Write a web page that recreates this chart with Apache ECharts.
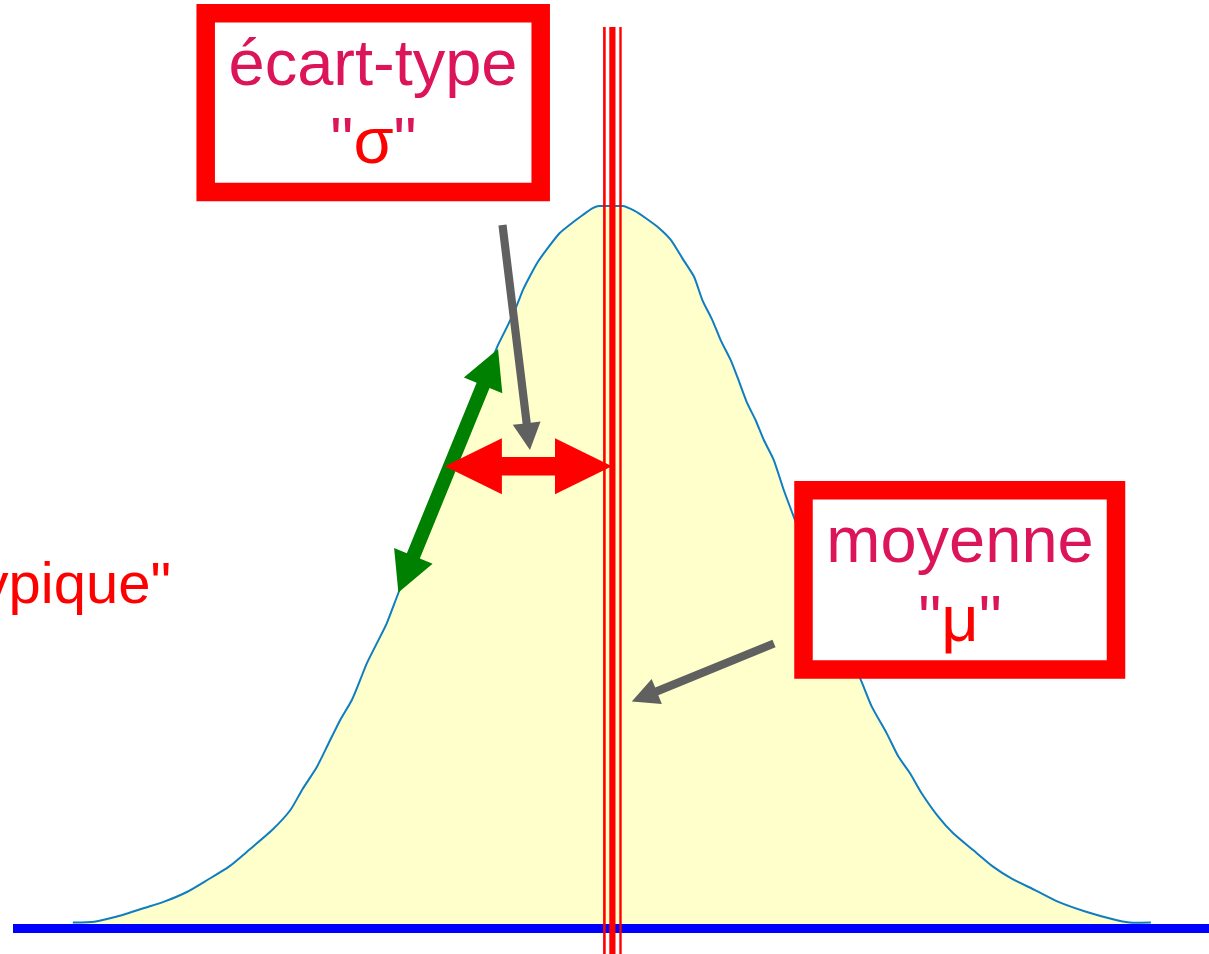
<!DOCTYPE html>
<html>
<head>
<meta charset="utf-8">
<script src="https://cdn.jsdelivr.net/npm/echarts@6/dist/echarts.min.js"></script>
<style>
  html, body { margin: 0; padding: 0; background: #fff; }
  #chart { width: 1209px; height: 954px; }
</style>
</head>
<body>
<div id="chart"></div>
<script>
// distribution, x in sigma units around the mean, y as density
const curveX = [-3.24, -3.11, -2.94, -2.81, -2.69, -2.55, -2.43, -2.30, -2.18, -2.04, -1.93, -1.86, -1.77, -1.70,
  -1.63, -1.56, -1.51, -1.47, -1.40, -1.35, -1.28, -1.15, -1.03, -0.91, -0.79, -0.68, -0.62, -0.57, -0.53, -0.49,
  -0.44, -0.39, -0.31, -0.25, -0.17, -0.11, -0.07, 0.07, 0.14, 0.21, 0.29, 0.36, 0.43, 0.50, 0.55, 0.61, 0.66,
  0.72, 0.76, 0.82, 0.87, 0.92, 0.98, 1.04, 1.10, 1.20, 1.32, 1.41, 1.50, 1.57, 1.66, 1.73, 1.80, 1.87, 1.97,
  2.06, 2.18, 2.30, 2.41, 2.55, 2.69, 2.86, 3.04, 3.14, 3.25];
const curveY = [0.003, 0.0035, 0.0072, 0.0111, 0.0146, 0.0201, 0.0266, 0.034, 0.0432, 0.0543, 0.0654, 0.0765, 0.0894, 0.1024,
  0.1153, 0.1264, 0.1375, 0.1467, 0.1596, 0.1689, 0.1857, 0.2151, 0.2428, 0.2705, 0.2982, 0.3232, 0.3343, 0.3444, 0.3537, 0.361,
  0.3693, 0.3758, 0.3851, 0.3897, 0.3952, 0.399, 0.4002, 0.4002, 0.3976, 0.3934, 0.3879, 0.3814, 0.3712, 0.361, 0.3481, 0.337, 0.3259,
  0.3149, 0.3056, 0.2909, 0.2816, 0.2705, 0.2594, 0.2428, 0.228, 0.204, 0.1752, 0.1552, 0.1384, 0.1227, 0.1079, 0.095, 0.0858, 0.0747, 0.0617,
  0.0525, 0.0432, 0.034, 0.0275, 0.0211, 0.0146, 0.009, 0.0044, 0.0029, 0.003];

const mean = 0;
const sigma = 1;
const sigmaArrowY = 0.256;
const typicalFrom = [-1.28, 0.186];
const typicalTo = [-0.68, 0.321];
const sigmaPointer = [-0.488, 0.265];
const meanPointer = [0.125, 0.1255];

const chart = echarts.init(document.getElementById('chart'));
const font = 'Liberation Sans, Arial, sans-serif';

chart.setOption({
  animation: false,
  backgroundColor: '#ffffff',
  grid: { left: 13, right: 0, top: 26, bottom: 26 },
  xAxis: {
    type: 'value',
    min: -3.6,
    max: 3.6,
    z: 5,
    axisLine: { show: true, onZero: true, lineStyle: { color: '#0000ff', width: 9, cap: 'butt' } },
    axisTick: { show: false },
    axisLabel: { show: false },
    splitLine: { show: false },
  },
  yAxis: {
    type: 'value',
    min: 0,
    max: 0.5,
    show: false,
    splitLine: { show: false },
  },
  series: [
    {
      type: 'line',
      data: curveX.map((x, i) => [x, curveY[i]]),
      showSymbol: false,
      smooth: 0.2,
      lineStyle: { color: '#0f7dc2', width: 2 },
      areaStyle: { color: '#ffffcc', opacity: 1 },
    },
  ],
});

const px = (p) => chart.convertToPixel({ gridIndex: 0 }, p);

function arrowPoints(p0, p1, w, L, H, double) {
  const dx = p1[0] - p0[0];
  const dy = p1[1] - p0[1];
  const len = Math.hypot(dx, dy);
  const ux = dx / len, uy = dy / len;
  const nx = -uy, ny = ux;
  const pt = (t, s) => [p0[0] + ux * t + nx * s, p0[1] + uy * t + ny * s];
  const pts = [];
  if (double) pts.push(pt(0, 0), pt(L, H), pt(L, w));
  else pts.push(pt(0, w));
  pts.push(pt(len - L, w), pt(len - L, H), pt(len, 0), pt(len - L, -H), pt(len - L, -w));
  if (double) pts.push(pt(L, -w), pt(L, -H));
  else pts.push(pt(0, -w));
  return pts;
}

const muPx = px([mean, 0]);
const topPx = px([mean, 0.5]);
const sigLeft = px([mean - sigma, sigmaArrowY]);
const sigRight = px([mean, sigmaArrowY]);

const vLine = (dx, width) => ({
  type: 'line',
  z: 20,
  shape: { x1: muPx[0] + dx, y1: topPx[1] + 1, x2: muPx[0] + dx, y2: 954 },
  style: { stroke: '#ff0000', lineWidth: width },
});

const boxText = (x, y, text, rich) => ({
  type: 'text',
  z: 31,
  style: {
    x, y, text, rich,
    fill: '#dc145a',
    font: '65px ' + font,
    align: 'center',
    verticalAlign: 'middle',
  },
});

chart.setOption({
  graphic: [
    {
      type: 'polygon', z: 10,
      shape: { points: arrowPoints(px(typicalFrom), px(typicalTo), 7, 39.5, 20.8, true) },
      style: { fill: '#008000' },
    },
    {
      type: 'polygon', z: 11,
      shape: { points: arrowPoints(sigLeft, [sigRight[0] + 1, sigRight[1]], 9.2, 57, 28, true) },
      style: { fill: '#ff0000' },
    },
    {
      type: 'polygon', z: 12,
      shape: { points: arrowPoints([502.5, 225], px(sigmaPointer), 4.1, 27, 14, false) },
      style: { fill: '#606060' },
    },
    {
      type: 'polygon', z: 12,
      shape: { points: arrowPoints([774, 643.5], px(meanPointer), 4.1, 27, 13.5, false) },
      style: { fill: '#606060' },
    },
    vLine(-6.6, 2.6),
    vLine(1.4, 6.2),
    vLine(9.5, 2.4),
    {
      type: 'text', z: 25,
      style: {
        x: 171, y: 587, text: '"typique"',
        fill: '#ff0000', font: '58px ' + font,
        align: 'right', verticalAlign: 'middle',
      },
    },
    {
      type: 'rect', z: 30,
      shape: { x: 205.7, y: 13.2, width: 335, height: 178.8 },
      style: { fill: '#ffffff', stroke: '#ff0000', lineWidth: 18.5 },
    },
    boxText(373, 67.5, 'écart-type'),
    boxText(373.5, 145.5, '{q|"}{s|σ}{q|"}', {
      q: { fill: '#dc145a', font: '65px ' + font },
      s: { fill: '#ff0000', font: '65px ' + font },
    }),
    {
      type: 'rect', z: 30,
      shape: { x: 803.5, y: 490.2, width: 312.5, height: 179.3 },
      style: { fill: '#ffffff', stroke: '#ff0000', lineWidth: 18.5 },
    },
    boxText(960, 544.5, 'moyenne'),
    boxText(960, 623, '{q|"}{s|μ}{q|"}', {
      q: { fill: '#dc145a', font: '65px ' + font },
      s: { fill: '#ff0000', font: '65px ' + font },
    }),
  ],
});
</script>
</body>
</html>
